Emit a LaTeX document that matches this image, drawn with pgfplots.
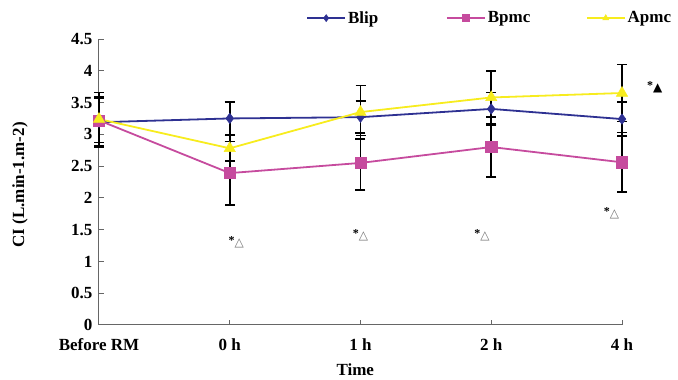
\documentclass[border=0pt]{standalone}
\usepackage{pgfplots}
\pgfplotsset{compat=1.18}
\usepackage{fontspec}
\setmainfont{Liberation Serif}
\newfontfamily\dejavu{DejaVu Sans}
\definecolor{cblip}{HTML}{2E3192}
\definecolor{cbpmc}{HTML}{C64B9E}
\definecolor{capmc}{HTML}{F7EC1E}
\definecolor{caxis}{HTML}{666666}
\newcommand{\ann}{\raisebox{2.5pt}{\fontsize{12}{12}\selectfont\bfseries*}{\dejavu\fontsize{12}{12}\selectfont\color{black!55}△}}
\newcommand{\annb}{\raisebox{2.5pt}{\fontsize{12}{12}\selectfont\bfseries*}{\dejavu\fontsize{12}{12}\selectfont ▲}}
\pgfplotstableread{
x y e
0 3.19 0.40
1 3.25 0.26
2 3.27 0.25
3 3.40 0.26
4 3.24 0.27
}\blip
\pgfplotstableread{
x y e
0 3.22 0.35
1 2.39 0.50
2 2.55 0.43
3 2.80 0.47
4 2.56 0.47
}\bpmc
\pgfplotstableread{
x y e
0 3.24 0.42
1 2.78 0.20
2 3.35 0.42
3 3.58 0.42
4 3.65 0.45
}\apmc
\begin{document}
\begin{tikzpicture}
\begin{axis}[
  scale only axis, width=523pt, height=286pt,
  xmin=0, xmax=4, ymin=0, ymax=4.5,
  axis x line=bottom, axis y line=left,
  axis line style={-, line width=1pt, caxis},
  xtick={0,1,2,3,4}, xticklabels={Before RM,0 h,1 h,2 h,4 h},
  ytick={0,0.5,1,1.5,2,2.5,3,3.5,4,4.5},
  yticklabels={0,0.5,1,1.5,2,2.5,3,3.5,4,4.5},
  tick align=inside, major tick length=5pt,
  tick style={line width=1pt, caxis},
  font=\fontsize{17}{19}\selectfont\bfseries,
  xticklabel style={font=\fontsize{17}{19}\selectfont\bfseries, yshift=-10pt},
  yticklabel style={font=\fontsize{17}{19}\selectfont\bfseries, xshift=-3pt},
  xlabel={Time}, ylabel={CI (L.min-1.m-2)},
  xlabel style={at={(axis description cs:0.49,-0.157)}, anchor=center},
  ylabel style={at={(axis description cs:-0.151,0.49)}, anchor=center, font=\fontsize{17}{19}\selectfont\bfseries},
  clip=false,
  legend columns=3,
  legend style={at={(0.747,1.073)}, anchor=center, draw=none, fill=none,
    font=\fontsize{17}{19}\selectfont\bfseries, column sep=0pt, inner sep=0pt},
  legend cell align=left,
  legend image code/.code={\draw[mark repeat=2, mark phase=2, mark size=3.5pt] plot coordinates {(0pt,0pt) (19pt,0pt) (38pt,0pt)};},
]
% error bars first (behind markers)
\addplot[only marks, mark=none, forget plot, error bars/.cd, y dir=both, y explicit,
  error bar style={black, line width=1.6pt}, error mark=-,
  error mark options={rotate=90, black, mark size=5pt, line width=1.6pt}]
  table[x=x, y=y, y error=e] {\blip};
\addplot[only marks, mark=none, forget plot, error bars/.cd, y dir=both, y explicit,
  error bar style={black, line width=1.6pt}, error mark=-,
  error mark options={rotate=90, black, mark size=5pt, line width=1.6pt}]
  table[x=x, y=y, y error=e] {\bpmc};
\addplot[only marks, mark=none, forget plot, error bars/.cd, y dir=both, y explicit,
  error bar style={black, line width=1.6pt}, error mark=-,
  error mark options={rotate=90, black, mark size=5pt, line width=1.6pt}]
  table[x=x, y=y, y error=e] {\apmc};
\addplot[cblip, line width=1.8pt, mark=diamond*, mark size=5.2pt, mark options={fill=cblip, draw=cblip, line width=0.5pt}] table[x=x, y=y] {\blip};
\addlegendentry{\makebox[96pt][l]{Blip}}
\addplot[cbpmc, line width=1.8pt, mark=square*, mark size=5.6pt, mark options={fill=cbpmc, draw=cbpmc, line width=0.5pt}] table[x=x, y=y] {\bpmc};
\addlegendentry{\makebox[96pt][l]{Bpmc}}
\addplot[capmc, line width=1.8pt, mark=triangle*, mark size=6.5pt, mark options={fill=capmc, draw=capmc, line width=0.5pt}] table[x=x, y=y] {\apmc};
\addlegendentry{Apmc}
\node at (axis cs:1.05,1.30) {\ann};
\node at (axis cs:2.00,1.41) {\ann};
\node at (axis cs:2.93,1.41) {\ann};
\node at (axis cs:3.92,1.76) {\ann};
\node at (axis cs:4.25,3.74) {\annb};
\coordinate (BL) at (rel axis cs:0,0);
\coordinate (TR) at (rel axis cs:1,1);
\end{axis}
\pgfresetboundingbox
\path ([shift={(-99pt,-55pt)}]BL) rectangle ([shift={(56pt,39pt)}]TR);
\end{tikzpicture}
\end{document}
